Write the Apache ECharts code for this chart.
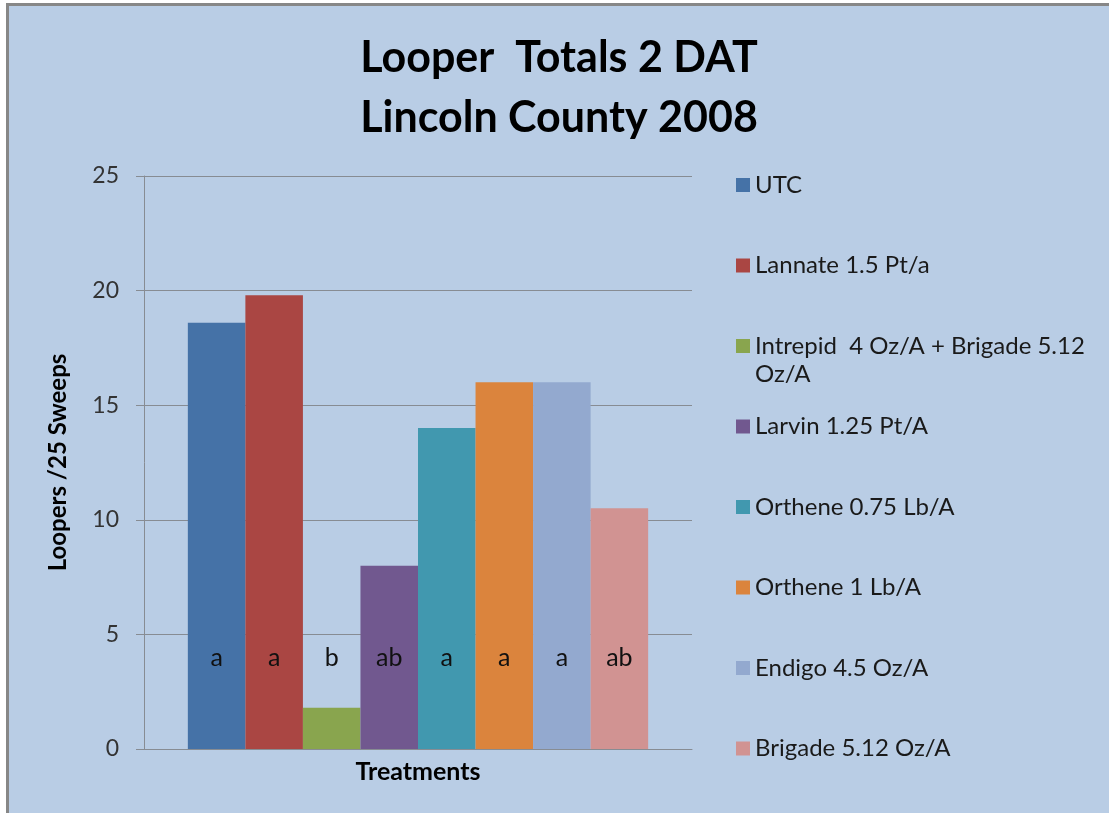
<!DOCTYPE html>
<html lang="en">
  <head>
    <meta charset="utf-8">
    <title>Looper Totals 2 DAT</title>
    <script src="https://cdn.jsdelivr.net/npm/echarts@6/dist/echarts.min.js"></script>
    <style>
      html, body { margin: 0; padding: 0; background: #ffffff; }
      #frame {
        position: absolute; left: 6px; top: 3px;
        border-left: 3px solid #878787; border-top: 3px solid #878787;
      }
      #main { width: 1100px; height: 807px; }
    </style>
  </head>
  <body>
    <div id="frame"><div id="main"></div></div>
    <script type="text/javascript">
    // chart data
    var treatments = [
        'UTC',
        'Lannate 1.5 Pt/a',
        'Intrepid  4 Oz/A + Brigade 5.12 Oz/A',
        'Larvin 1.25 Pt/A',
        'Orthene 0.75 Lb/A',
        'Orthene 1 Lb/A',
        'Endigo 4.5 Oz/A',
        'Brigade 5.12 Oz/A'
    ];
    var loopers = [18.6, 19.8, 1.8, 8, 14, 16, 16, 10.5];
    var letters = ['a', 'a', 'b', 'ab', 'a', 'a', 'a', 'ab'];
    var yTicks = [0, 5, 10, 15, 20, 25];

    var colors = ['#4572a7', '#aa4643', '#89a54e', '#71588f', '#4198af', '#db843d', '#93a9cf', '#d19392'];
    var font = 'Lato, "Open Sans", sans-serif';

    var chart = echarts.init(document.getElementById('main'));

    var series = treatments.map(function (name, i) {
        return {
            name: name,
            type: 'bar',
            barGap: '0%',
            barCategoryGap: '16%',
            itemStyle: { color: colors[i] },
            label: {
                show: true,
                position: 'insideBottom',
                distance: 79,
                formatter: letters[i],
                color: '#111',
                fontSize: 25,
                fontFamily: font
            },
            data: [loopers[i]]
        };
    });

    var legendData = treatments.map(function (name) {
        if (name.length > 30) {
            // long entry wraps: 3 lines of 28 (blank, text, text) keeps the icon on the first text line
            return { name: name, textStyle: { lineHeight: 28 } };
        }
        return { name: name };
    });

    var option = {
        backgroundColor: '#b9cde5',
        animation: false,
        title: {
            text: 'Looper  Totals 2 DAT\nLincoln County 2008',
            left: 'center',
            top: 17,
            textStyle: {
                fontFamily: font,
                fontWeight: 'bold',
                fontSize: 43,
                lineHeight: 60,
                color: '#000'
            }
        },
        legend: {
            orient: 'vertical',
            left: 727,
            top: 137,
            padding: 0,
            itemGap: -3.5,
            itemWidth: 14,
            itemHeight: 14,
            icon: 'rect',
            data: legendData,
            formatter: function (name) {
                return name.length > 30 ? '\n' + name.replace(/ (Oz\/A)$/, '\n$1') : name;
            },
            textStyle: {
                fontFamily: font,
                fontSize: 24,
                lineHeight: 84,
                color: '#1a1a1a'
            }
        },
        grid: {
            left: 135,
            top: 170,
            width: 548,
            height: 573
        },
        xAxis: {
            type: 'category',
            data: [''],
            name: 'Treatments',
            nameLocation: 'middle',
            nameGap: 10,
            nameTextStyle: { fontFamily: font, fontWeight: 'bold', fontSize: 25, color: '#000' },
            axisLine: { lineStyle: { color: '#878c93', width: 1 } },
            axisTick: { show: false },
            axisLabel: { show: false }
        },
        yAxis: {
            type: 'value',
            min: yTicks[0],
            max: yTicks[yTicks.length - 1],
            interval: 5,
            name: 'Loopers /25 Sweeps',
            nameLocation: 'middle',
            nameGap: 74,
            nameTextStyle: { fontFamily: font, fontWeight: 'bold', fontSize: 24, color: '#000' },
            axisLine: { show: true, lineStyle: { color: '#878c93' } },
            axisTick: { show: true, length: 8, lineStyle: { color: '#878c93' } },
            axisLabel: { margin: 25, fontFamily: font, fontSize: 23, color: '#333' },
            splitLine: { lineStyle: { color: '#878c93', width: 1 } }
        },
        series: series
    };

    chart.setOption(option);
    </script>
  </body>
</html>
